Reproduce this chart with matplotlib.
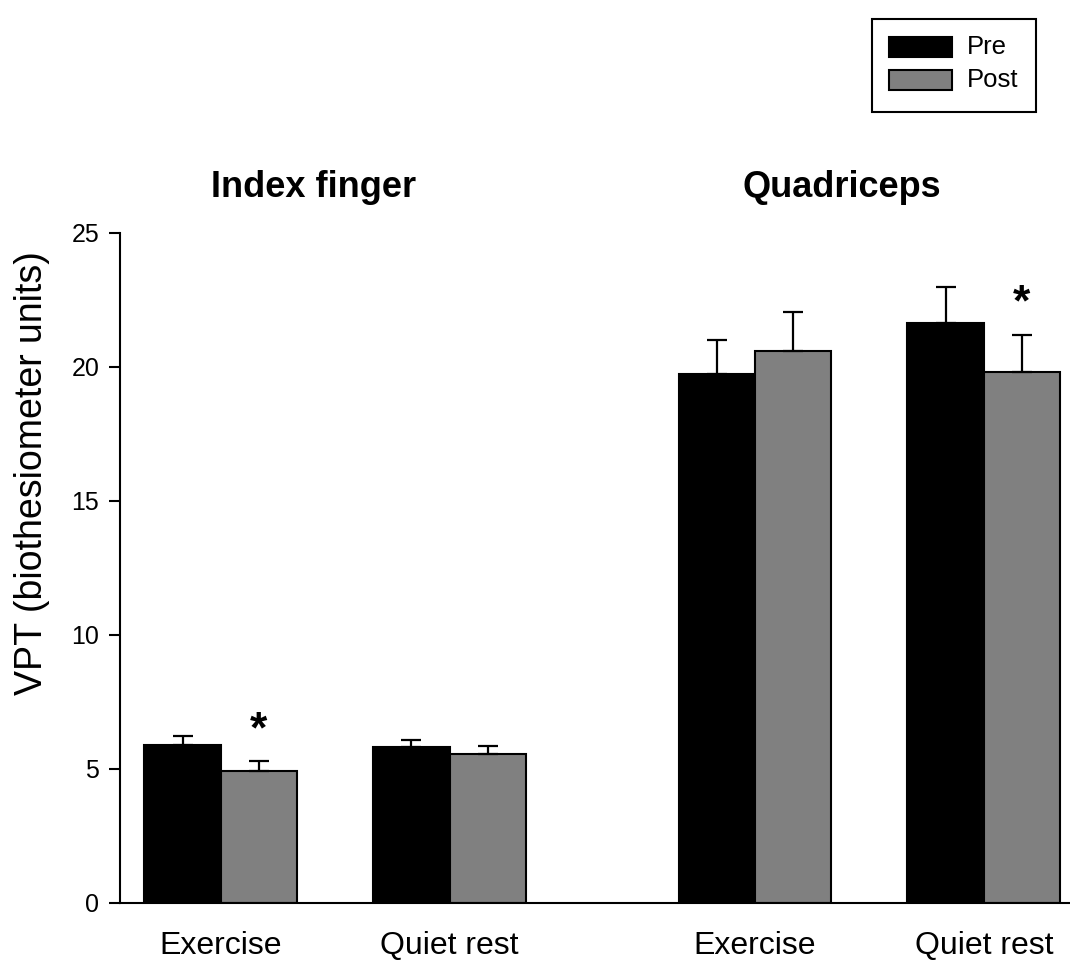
import matplotlib
matplotlib.use("Agg")
import matplotlib.pyplot as plt
from matplotlib.patches import Rectangle
import numpy as np

plt.rcParams["font.family"] = "Liberation Sans"

# data
groups = ["Exercise", "Quiet rest", "Exercise", "Quiet rest"]
group_pos = [0, 3, 7, 10]
pre = [5.90, 5.82, 19.74, 21.64]
pre_err = [0.33, 0.26, 1.26, 1.35]
post = [4.93, 5.56, 20.60, 19.81]
post_err = [0.37, 0.30, 1.45, 1.38]
sig_pos = [0.5, 10.5]      # asterisks above the Post bars
sig_y = [6.0, 21.93]

PRE_COLOR = "black"
POST_COLOR = "#808080"
W, H = 1070, 964

fig = plt.figure(figsize=(10.7, 9.64), dpi=100)
ax = fig.add_axes([120 / W, 61 / H, 950 / W, 670 / H])

x = np.array(group_pos, dtype=float)
ax.bar(x - 0.5, pre, width=1.0, color=PRE_COLOR, edgecolor="black", linewidth=1.5)
ax.bar(x + 0.5, post, width=1.0, color=POST_COLOR, edgecolor="black", linewidth=1.5)

ax.errorbar(x - 0.5, pre, yerr=[np.zeros(4), pre_err], fmt="none",
            ecolor="black", elinewidth=1.6, capsize=7.5, capthick=1.6)
ax.errorbar(x + 0.5, post, yerr=[np.zeros(4), post_err], fmt="none",
            ecolor="black", elinewidth=1.6, capsize=7.5, capthick=1.6)

for sx, sy in zip(sig_pos, sig_y):
    ax.text(sx, sy, "*", ha="center", va="baseline", fontsize=32, fontweight="bold")

ax.set_xlim(-1.32, 11.13)
ax.set_ylim(0, 25)
ax.set_yticks([0, 5, 10, 15, 20, 25])
ax.set_xticks(group_pos)
ax.set_xticklabels(groups, fontsize=23)
ax.tick_params(axis="x", length=0, pad=20)
ax.tick_params(axis="y", direction="out", length=8, width=1.5, labelsize=18, pad=7)

for side in ["top", "right"]:
    ax.spines[side].set_visible(False)
ax.spines["left"].set_linewidth(1.5)
ax.spines["bottom"].set_linewidth(1.5)

# y label sits a bit above the axis centre in the original
fig.text(32 / W, 1 - 473 / H, "VPT (biothesiometer units)", rotation=90,
         ha="center", va="center", fontsize=27)

fig.text(314 / W, 1 - 197 / H, "Index finger", ha="center", va="baseline",
         fontsize=26, fontweight="bold")
fig.text(842 / W, 1 - 197 / H, "Quadriceps", ha="center", va="baseline",
         fontsize=26, fontweight="bold")

# legend box
fig.patches.append(Rectangle((872 / W, 1 - 112 / H), 164 / W, 93 / H,
                             transform=fig.transFigure, facecolor="white",
                             edgecolor="black", linewidth=1.5))
for label, color, yc in [("Pre", PRE_COLOR, 47), ("Post", POST_COLOR, 80)]:
    fig.patches.append(Rectangle((889 / W, 1 - (yc + 10) / H), 63 / W, 20 / H,
                                 transform=fig.transFigure, facecolor=color,
                                 edgecolor="black", linewidth=1.5))
    fig.text(967 / W, 1 - yc / H, label, ha="left", va="center", fontsize=18.5)

fig.savefig("out.png", dpi=100)
